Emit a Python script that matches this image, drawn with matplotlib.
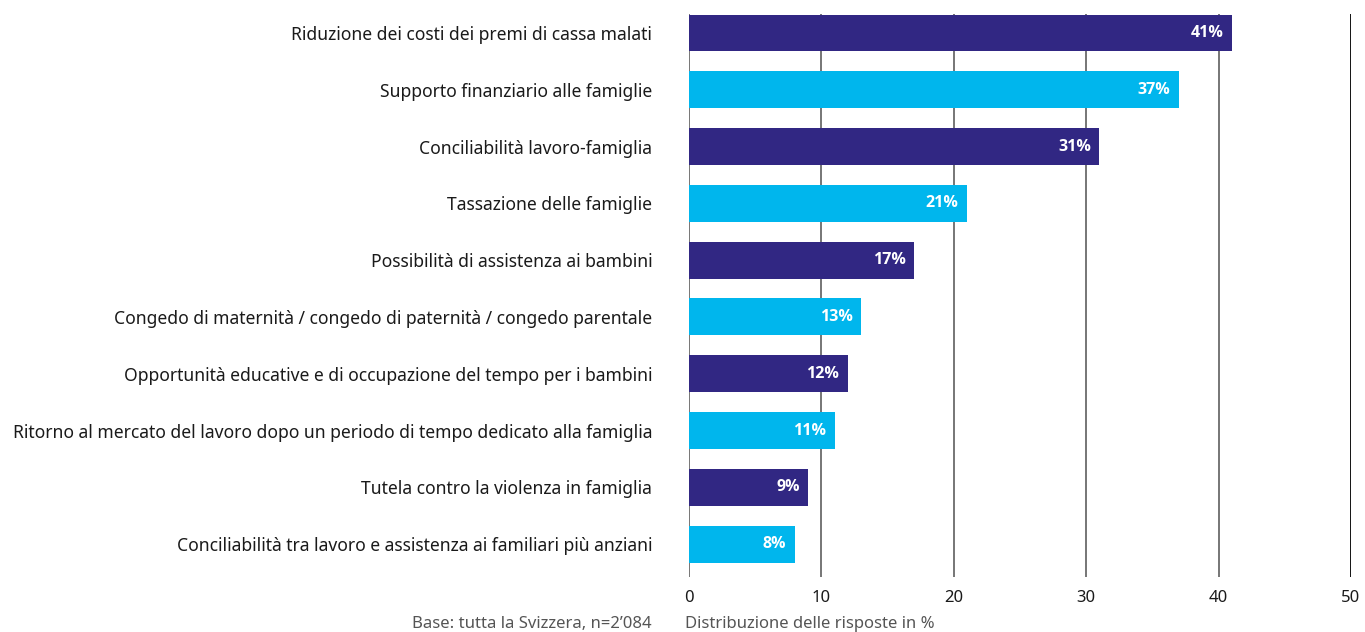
import matplotlib
matplotlib.use("Agg")
import matplotlib.pyplot as plt

categories = [
    "Riduzione dei costi dei premi di cassa malati",
    "Supporto finanziario alle famiglie",
    "Conciliabilità lavoro-famiglia",
    "Tassazione delle famiglie",
    "Possibilità di assistenza ai bambini",
    "Congedo di maternità / congedo di paternità / congedo parentale",
    "Opportunità educative e di occupazione del tempo per i bambini",
    "Ritorno al mercato del lavoro dopo un periodo di tempo dedicato alla famiglia",
    "Tutela contro la violenza in famiglia",
    "Conciliabilità tra lavoro e assistenza ai familiari più anziani",
]
values = [41, 37, 31, 21, 17, 13, 12, 11, 9, 8]
xticks = [0, 10, 20, 30, 40, 50]
note_left = "Base: tutta la Svizzera, n=2\u2019084"
note_right = "Distribuzione delle risposte in %"

DARK = "#312783"
CYAN = "#00B6ED"
colors = [DARK if i % 2 == 0 else CYAN for i in range(len(values))]

plt.rcParams['font.family'] = ['Noto Sans', 'DejaVu Sans']

fig = plt.figure(figsize=(13.65, 6.32), dpi=100)
ax = fig.add_axes([689/1365, 1-577/632, (1351-689)/1365, (577-14)/632])

ypos = list(range(len(values)))
for x in xticks:
    ax.axvline(x, color="#000000" if x == 50 else "#6b6b6b", lw=1.3, zorder=1)
ax.barh(ypos, values, height=0.65, color=colors, zorder=2)
for y, v in zip(ypos, values):
    ax.text(v - 0.65, y, f"{v}%", color="white", fontweight="bold",
            family=["Open Sans", "DejaVu Sans"],
            ha="right", va="center", fontsize=11.5, zorder=3)

ax.set_xlim(0, 50)
ax.set_ylim(9 + 0.58, -0.335)
ax.set_yticks(ypos)
ax.set_yticklabels(categories, fontsize=12.6, color="#1a1a1a")
ax.tick_params(axis='y', length=0, pad=26.5)
ax.set_xticks(xticks)
ax.set_xticklabels([str(t) for t in xticks], fontsize=12, color="#1a1a1a")
ax.tick_params(axis='x', length=0, pad=9)
for s in ax.spines.values():
    s.set_visible(False)

fig.text(652/1365, 1-624/632, note_left, ha="right", va="center", fontsize=12, color="#555555")
fig.text(685/1365, 1-624/632, note_right, ha="left", va="center", fontsize=12, color="#555555")

fig.savefig("out.png", dpi=100)
